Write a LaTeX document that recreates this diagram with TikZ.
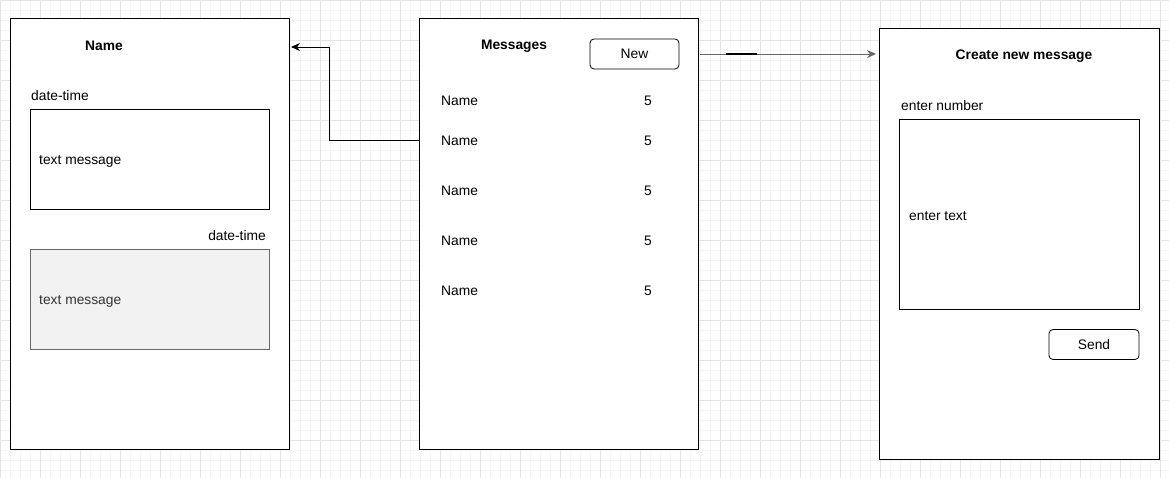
\documentclass[tikz,border=0pt]{standalone}
\usepackage{fontspec}
\setmainfont{Liberation Sans}
\usetikzlibrary{arrows.meta}
\definecolor{minorgrid}{HTML}{F5F5F5}
\definecolor{majorgrid}{HTML}{E4E4E4}
\definecolor{msgfill}{HTML}{F2F2F2}
\definecolor{msgline}{HTML}{666666}
\definecolor{msgtext}{HTML}{333333}
\tikzset{
  panel/.style={draw=black, line width=1pt, fill=white},
  box/.style={draw=black, line width=0.8pt, fill=white},
  graybox/.style={draw=msgline, line width=0.8pt, fill=msgfill},
  btn/.style={draw=black, line width=0.8pt, fill=white, rounded corners=4pt},
  txt/.style={inner sep=0pt, font=\fontsize{13.8}{15}\selectfont},
  btxt/.style={txt, font=\fontsize{13.8}{15}\selectfont\bfseries},
  conn/.style={draw=black, line width=0.9pt, -{Stealth[length=9pt,width=8pt]}},
}
\begin{document}
\begin{tikzpicture}[x=1pt,y=-1pt]
\useasboundingbox (0,0) rectangle (1169,478);
\fill[white] (0,0) rectangle (1169,478);
\draw[minorgrid, line width=0.6pt, step=10pt] (0,0) grid (1169,478);
\draw[majorgrid, line width=0.8pt, step=40pt] (0,0) grid (1169,478);

% left panel
\path[panel] (10,19) rectangle (289,449);
\node[btxt] (lname) at (104,46) {Name};
\node[txt, anchor=west] (dt1) at (31,96) {date-time};
\path[box] (30,109) rectangle (269,209);
\node[txt, anchor=west] (tm1) at (39,161) {text message};
\node[txt, anchor=east] (dt2) at (266,236) {date-time};
\path[graybox] (30,249) rectangle (269,349);
\node[txt, anchor=west, text=msgtext] (tm2) at (39,301) {text message};
\coordinate (lin) at (291,47);

% middle panel
\path[panel] (419,19) rectangle (698,449);
\node[btxt] (msgs) at (514,46) {Messages};
\node[btn, minimum width=89pt, minimum height=30pt, txt] (new) at (634.5,54) {New};
\foreach \y/\n in {101/a,141/b,191/c,241/d,291/e}{
  \node[txt, anchor=west] (name\n) at (441,\y) {Name};
  \node[txt] (cnt\n) at (648,\y) {5};
}
\coordinate (mout) at (419,140);
\coordinate (rout) at (700,54);

% right panel
\path[panel] (879,29) rectangle (1159,459);
\node[btxt] (create) at (1024,56) {Create new message};
\node[txt, anchor=west] (enum) at (901,106) {enter number};
\path[box] (899,119) rectangle (1139,309);
\node[txt, anchor=west] (etext) at (909,216) {enter text};
\node[btn, minimum width=90pt, minimum height=30pt, txt] (send) at (1094,344.5) {Send};
\coordinate (rin) at (876,54);

% connectors
\draw[conn] (mout) -- (329,140) -- (329,47) -- (lin);
\draw[conn, draw=black!60] (rout) -- (rin);
\draw[black, line width=2.6pt] (726,54) -- (757,54);
\end{tikzpicture}
\end{document}
